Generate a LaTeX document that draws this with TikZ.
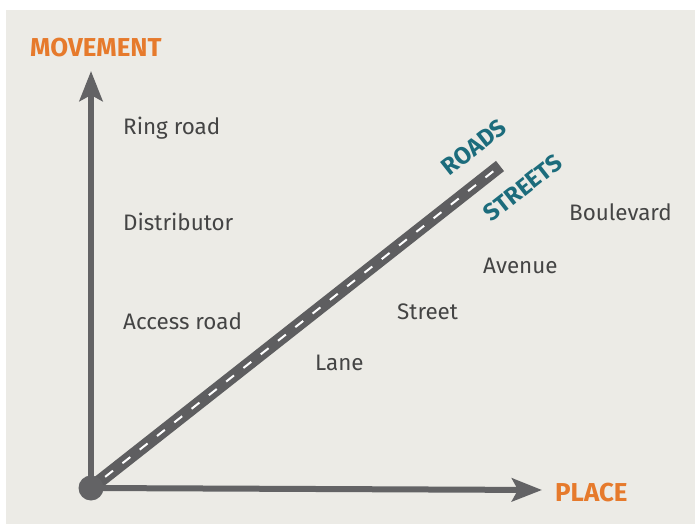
\documentclass[tikz,border=0pt]{standalone}
\usepackage{fontspec}
\setmainfont{Fira Sans}
\usetikzlibrary{arrows.meta,calc}
\definecolor{bg}{HTML}{ECEBE6}
\definecolor{axis}{HTML}{636365}
\definecolor{road}{HTML}{5E5E60}
\definecolor{orng}{HTML}{E67A2C}
\definecolor{teal}{HTML}{1C6C7C}
\definecolor{txt}{HTML}{444444}
\tikzset{
  axisline/.style={draw=axis, line width=6bp, -{Stealth[length=30bp,width=23bp,inset=6bp]}},
  axislabel/.style={text=orng, font=\fontsize{26}{28}\selectfont\bfseries, inner sep=0pt},
  roadlabel/.style={text=teal, font=\fontsize{24}{26}\selectfont\bfseries, inner sep=0pt, rotate=38.1},
  item/.style={text=txt, font=\fontsize{22.5}{25}\selectfont, inner sep=0pt, anchor=base west},
}
\begin{document}
\begin{tikzpicture}[x=1bp,y=-1bp]
\useasboundingbox (0,0) rectangle (695,524);
\fill[bg] (6,10) rectangle (695,524);
\coordinate (o) at (91,488);
\coordinate (ytip) at (91,71);
\coordinate (xtip) at (542,490);
\coordinate (rend) at (500,166);
% road
\draw[road, line width=13bp] (o) -- (rend);
\draw[white, line width=2bp, dash pattern=on 10bp off 12bp, dash phase=4bp] (o) -- ($(rend)!4bp!(o)$);
% axes
\draw[axisline] (o) -- (ytip);
\draw[axisline] (o) -- (xtip);
\fill[axis] (o) circle (12.5bp);
% labels
\node[axislabel, anchor=base west] (mv) at (30,57) {MOVEMENT};
\node[axislabel, anchor=base west] (pl) at (555,501) {PLACE};
\node[roadlabel] (roads) at (474,147) {ROADS};
\node[roadlabel] (streets) at (523,188) {STREETS};
\node[item] (ring) at (123,135) {Ring road};
\node[item] (dist) at (123,231) {Distributor};
\node[item] (acc) at (123,329) {Access road};
\node[item] (lane) at (315,370) {Lane};
\node[item] (street) at (397,319) {Street};
\node[item] (ave) at (483,274) {Avenue};
\node[item] (boul) at (569,221) {Boulevard};
\end{tikzpicture}
\end{document}
